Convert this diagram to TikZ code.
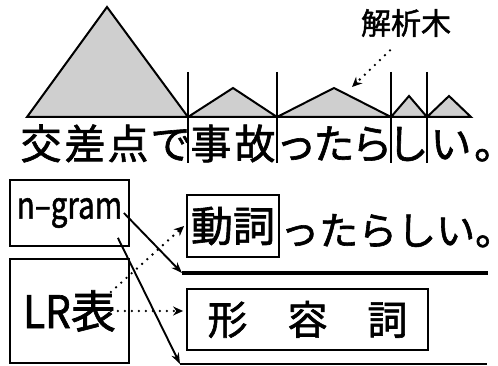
\documentclass[tikz,border=0pt]{standalone}
\usepackage{graphicx}
\usepackage{fontspec}
\setmainfont{Noto Sans CJK JP}[FakeBold = 1.5]
\usetikzlibrary{positioning, calc, arrows.meta}

\tikzset{
    tree/.style={draw = black, line width = 2pt, fill = gray!38, line join = miter},
    sep/.style={line width = 1.1pt},
    box/.style={draw = black, line width = 1.8pt, inner sep = 0pt},
    bigchar/.style={font = \fontsize{41pt}{41pt}\selectfont, inner sep = 0pt, anchor = base},
    solidarrow/.style={line width = 1.9pt, -{Stealth[length = 11pt, width = 8pt]}},
    dotarrow/.style={line width = 2.6pt, line cap = round, dash pattern = on 0pt off 7pt,
        -{Stealth[length = 10pt, width = 9pt]}},
    underline/.style={line width = 4pt}
}

\begin{document}
\begin{tikzpicture}[x = 1pt, y = -1pt]

\useasboundingbox (0, 0) rectangle (498, 366);

% parse trees
\draw[tree] (27, 117) -- (107, 7) -- (188, 117) -- cycle;
\draw[tree] (188, 117) -- (233, 88) -- (277, 117) -- cycle;
\draw[tree] (277, 117) -- (334, 88) -- (391, 117) -- cycle;
\draw[tree] (391, 117) -- (409, 96) -- (427, 117) -- cycle;
\draw[tree] (427, 117) -- (449, 96) -- (471, 117) -- cycle;
\coordinate (apex) at (334, 88);

\node[font = \fontsize{30pt}{30pt}\selectfont] (treelabel) at (406, 23) {解析木};
\draw[dotarrow] ([xshift = -16pt, yshift = -10pt]treelabel.south) -- ([xshift = 18pt, yshift = 1pt]apex);

% word boundaries
\foreach \x in {188, 277, 391, 427}
    \draw[sep] (\x, 72) -- (\x, 163);

% sentence
\foreach \ch/\x [count = \i] in {交/41, 差/85, 点/128, で/171, 事/211, 故/255,
                                 っ/296, た/334, ら/372, し/408, い/451}
    \node[bigchar] (c\i) at (\x, 159) {\ch};
\node[bigchar, anchor = base west] (stop) at (474, 159) {\makebox[18pt][l]{。}};

% models
\node[box, minimum width = 119pt, minimum height = 66pt] (ngram) at (69.5, 213)
    {\fontsize{37pt}{37pt}\selectfont\scalebox{0.8}[1]{n--gram}};
\node[box, minimum width = 119pt, minimum height = 104pt] (lr) at (69.5, 311)
    {\fontsize{45pt}{45pt}\selectfont\scalebox{0.9}[1]{LR}表};

% candidates
\node[box, minimum width = 92pt, minimum height = 62pt] (verb) at (233, 226)
    {\fontsize{42pt}{42pt}\selectfont 動詞};
\node[font = \fontsize{39pt}{39pt}\selectfont, anchor = base west, inner sep = 0pt] (rest) at (280, 245)
    {ったらしい\makebox[16pt][l]{。}};
\node[box, minimum width = 241pt, minimum height = 61pt] (adj) at (307.5, 319.5)
    {\fontsize{40pt}{40pt}\selectfont 形\hspace{40pt}容\hspace{40pt}詞};

\coordinate (ul1) at (182, 273);
\coordinate (ur1) at (488, 273);
\coordinate (ul2) at (180, 364);
\coordinate (ur2) at (487, 364);
\draw[underline] (ul1) -- (ur1);
\draw[line width = 2.2pt] (ul2) -- (ur2);

% connectors
\draw[solidarrow] ([xshift = -6pt]ngram.east) -- (ul1);
\draw[solidarrow] ([xshift = -12pt, yshift = 9pt]ngram.south east) -- (ul2);
\coordinate (lrout) at ([xshift = -19pt]lr.east);
\draw[dotarrow] ([xshift = -19pt, yshift = 19pt]lr.east) -- ([xshift = -2pt]verb.west);
\draw[dotarrow] (lrout) -- ([xshift = -3pt]lrout -| adj.west);

\end{tikzpicture}
\end{document}
